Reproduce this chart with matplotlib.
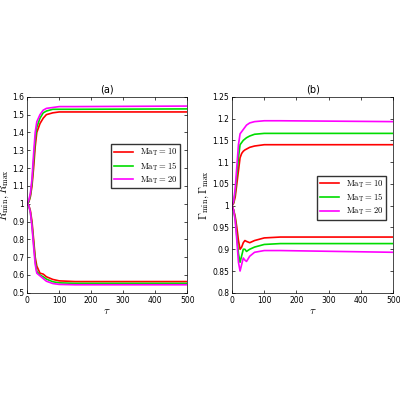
import matplotlib.pyplot as plt

# tau sample points
tau_a = [0, 5, 10, 15, 20, 25, 30, 40, 50, 60, 80, 100, 150, 500]
rmax_10 = [1.0, 1.01, 1.04, 1.1, 1.2, 1.32, 1.4, 1.45, 1.48, 1.50, 1.51, 1.515, 1.515, 1.515]
rmax_15 = [1.0, 1.01, 1.05, 1.12, 1.24, 1.36, 1.43, 1.48, 1.51, 1.52, 1.53, 1.53, 1.53, 1.532]
rmax_20 = [1.0, 1.02, 1.06, 1.14, 1.28, 1.4, 1.46, 1.50, 1.525, 1.535, 1.54, 1.545, 1.545, 1.548]
rmin_10 = [1.0, 0.99, 0.96, 0.9, 0.8, 0.7, 0.65, 0.61, 0.605, 0.59, 0.575, 0.567, 0.563, 0.563]
rmin_15 = [1.0, 0.99, 0.95, 0.88, 0.78, 0.68, 0.62, 0.6, 0.59, 0.577, 0.562, 0.556, 0.553, 0.553]
rmin_20 = [1.0, 0.99, 0.95, 0.87, 0.76, 0.66, 0.61, 0.595, 0.58, 0.565, 0.552, 0.547, 0.545, 0.545]

tau_b = [0, 5, 10, 15, 20, 25, 30, 35, 40, 45, 55, 70, 100, 150, 500]
gmax_10 = [1.0, 1.005, 1.02, 1.05, 1.08, 1.11, 1.12, 1.125, 1.128, 1.13, 1.134, 1.137, 1.14, 1.14, 1.14]
gmax_15 = [1.0, 1.008, 1.03, 1.07, 1.11, 1.14, 1.145, 1.15, 1.153, 1.156, 1.16, 1.164, 1.166, 1.166, 1.166]
gmax_20 = [1.0, 1.01, 1.04, 1.09, 1.14, 1.165, 1.17, 1.175, 1.18, 1.185, 1.19, 1.193, 1.195, 1.195, 1.193]
gmin_10 = [1.0, 0.99, 0.975, 0.95, 0.92, 0.9, 0.905, 0.915, 0.92, 0.918, 0.915, 0.92, 0.926, 0.928, 0.928]
gmin_15 = [1.0, 0.99, 0.97, 0.93, 0.89, 0.87, 0.885, 0.9, 0.9, 0.895, 0.9, 0.905, 0.911, 0.913, 0.913]
gmin_20 = [1.0, 0.99, 0.965, 0.92, 0.87, 0.85, 0.865, 0.88, 0.875, 0.872, 0.884, 0.893, 0.897, 0.897, 0.893]

colors = ['#ff0000', '#00dd00', '#ff00ff']
labels = [r'$\mathrm{Ma_T}=10$', r'$\mathrm{Ma_T}=15$', r'$\mathrm{Ma_T}=20$']

plt.rcParams['mathtext.fontset'] = 'cm'
fig = plt.figure(figsize=(4, 4), dpi=100)
ax1 = fig.add_axes([0.068, 0.268, 0.4, 0.49])
ax2 = fig.add_axes([0.58, 0.268, 0.403, 0.49])

for c, l, up, lo in zip(colors, labels, [rmax_10, rmax_15, rmax_20], [rmin_10, rmin_15, rmin_20]):
    ax1.plot(tau_a, up, color=c, lw=1.2, label=l)
    ax1.plot(tau_a, lo, color=c, lw=1.2)
for c, l, up, lo in zip(colors, labels, [gmax_10, gmax_15, gmax_20], [gmin_10, gmin_15, gmin_20]):
    ax2.plot(tau_b, up, color=c, lw=1.2, label=l)
    ax2.plot(tau_b, lo, color=c, lw=1.2)

ax1.set_ylim(0.5, 1.6)
ax1.set_yticks([0.5, 0.6, 0.7, 0.8, 0.9, 1, 1.1, 1.2, 1.3, 1.4, 1.5, 1.6])
ax1.set_yticklabels(['0.5', '0.6', '0.7', '0.8', '0.9', '1', '1.1', '1.2', '1.3', '1.4', '1.5', '1.6'])
ax1.set_ylabel(r'$R_{\min}, R_{\max}$', fontsize=8, labelpad=1)
ax1.set_title('(a)', fontsize=7, pad=3)
ax1.legend(loc='upper right', bbox_to_anchor=(0.98, 0.78), fontsize=6.2, handlelength=2.2,
           fancybox=False, edgecolor='black', borderpad=0.3, labelspacing=0.2)

ax2.set_ylim(0.8, 1.25)
ax2.set_yticks([0.8, 0.85, 0.9, 0.95, 1, 1.05, 1.1, 1.15, 1.2, 1.25])
ax2.set_yticklabels(['0.8', '0.85', '0.9', '0.95', '1', '1.05', '1.1', '1.15', '1.2', '1.25'])
ax2.set_ylabel(r'$\Gamma_{\min}, \Gamma_{\max}$', fontsize=8, labelpad=1)
ax2.set_title('(b)', fontsize=7, pad=3)
ax2.legend(loc='upper right', bbox_to_anchor=(0.98, 0.62), fontsize=6.2, handlelength=2.2,
           fancybox=False, edgecolor='black', borderpad=0.3, labelspacing=0.2)

for ax in (ax1, ax2):
    ax.set_xlim(0, 500)
    ax.set_xticks([0, 100, 200, 300, 400, 500])
    ax.set_xlabel(r'$\tau$', fontsize=8, labelpad=1)
    ax.tick_params(labelsize=5.5, direction='in', length=2, width=0.5, pad=2, top=True, right=True)
    for s in ax.spines.values():
        s.set_linewidth(0.5)

fig.savefig('out.png', dpi=100)
